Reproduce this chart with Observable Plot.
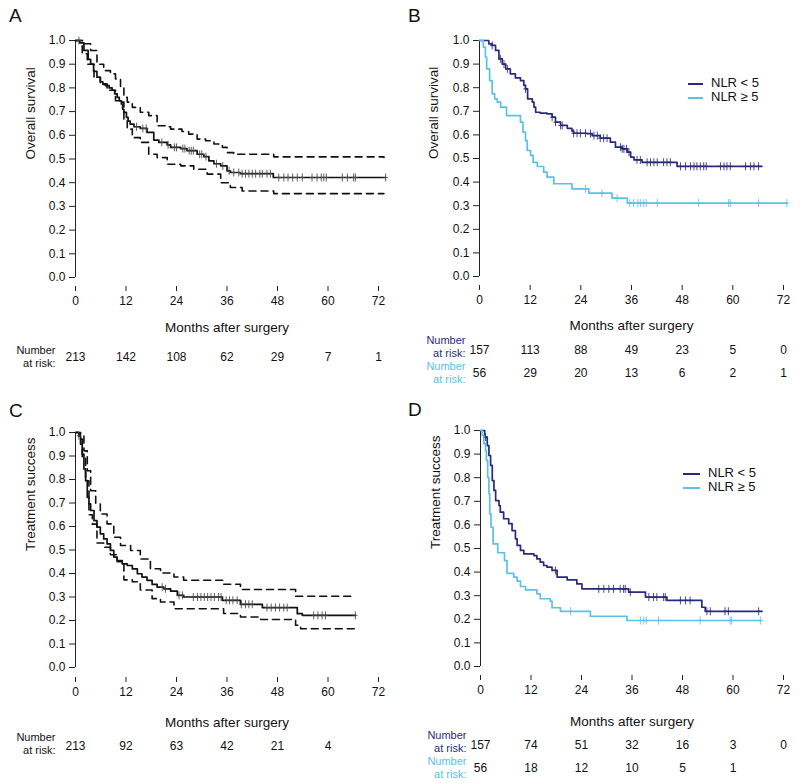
<!DOCTYPE html>
<html><head><meta charset="utf-8">
<script src="https://cdn.jsdelivr.net/npm/d3@7"></script>
<script src="https://cdn.jsdelivr.net/npm/@observablehq/plot@0.6"></script>
<style>
body{margin:0;background:#fff;}
#root{position:relative;width:800px;height:783px;font-family:"Liberation Sans",Arial,sans-serif;color:#111;overflow:hidden;}
.panel{position:absolute;}
.plabel{position:absolute;font-size:19px;line-height:19px;}
.leg{position:absolute;font-size:13px;line-height:16px;height:16px;white-space:nowrap;}
.leg span{display:inline-block;height:2px;vertical-align:middle;margin-right:8px;}
</style></head><body><div id="root"></div>
<script>
// ---------- data ----------
const NAVY = "#2a2a7c", LIGHT = "#5bc1e6", BLACK = "#111";
const xTicks = [0, 12, 24, 36, 48, 60, 72];
const yTicks = [0, 0.1, 0.2, 0.3, 0.4, 0.5, 0.6, 0.7, 0.8, 0.9, 1.0];

// Panel A – overall survival, all patients
const A_t = [0, 1.0, 2.0, 3.0, 3.6, 4.3, 5.1, 5.9, 6.5, 7.1, 8.0, 8.7, 9.3, 9.9, 10.4, 10.9, 11.2, 11.5, 12.1, 12.5, 13.0, 13.9, 15.4, 17.0, 18.6, 19.8, 21.8, 22.6, 25.0, 26.5, 28.9, 30.5, 31.7, 32.9, 34.5, 36.0, 36.8, 39.2, 47.0, 73.7];
const A_s = [1.0, 0.99, 0.958, 0.92, 0.90, 0.87, 0.845, 0.826, 0.815, 0.81, 0.80, 0.79, 0.775, 0.76, 0.745, 0.732, 0.71, 0.697, 0.676, 0.66, 0.647, 0.636, 0.629, 0.612, 0.58, 0.57, 0.56, 0.549, 0.544, 0.535, 0.52, 0.51, 0.492, 0.48, 0.471, 0.45, 0.443, 0.438, 0.422, 0.422];
const AU_t = [0, 2.0, 3.6, 5.1, 6.7, 8.3, 9.5, 10.7, 11.5, 12.3, 13.5, 15.4, 17.4, 19.4, 21.8, 22.6, 25.3, 26.9, 28.9, 30.9, 32.9, 34.9, 36.0, 37.6, 47.1, 73.3];
const AU_s = [1.0, 0.986, 0.958, 0.90, 0.873, 0.859, 0.838, 0.80, 0.76, 0.74, 0.718, 0.697, 0.683, 0.64, 0.636, 0.626, 0.616, 0.605, 0.584, 0.577, 0.563, 0.549, 0.527, 0.52, 0.509, 0.506];
const AL_t = [0, 1.6, 2.8, 4.4, 5.9, 7.5, 9.5, 10.7, 11.5, 12.3, 13.5, 15.4, 17.4, 19.4, 21.8, 25.0, 28.1, 31.3, 34.5, 36.8, 39.6, 47.1, 73.3];
const AL_s = [1.0, 0.944, 0.90, 0.845, 0.817, 0.79, 0.746, 0.74, 0.66, 0.626, 0.59, 0.57, 0.52, 0.506, 0.478, 0.471, 0.457, 0.436, 0.40, 0.38, 0.365, 0.354, 0.354];
const A_cens = [0.8, 14.5, 16.0, 16.8, 20.5, 22.0, 23.5, 24.0, 25.5, 26.0, 27.0, 27.5, 28.0, 29.5, 30.0, 31.0, 33.5, 35.0, 36.5, 37.6, 38.8, 39.6, 40.4, 41.2, 42.0, 42.8, 43.8, 44.4, 45.5, 46.3, 48.3, 49.5, 50.5, 51.6, 52.7, 53.9, 56.2, 57.4, 58.4, 59.0, 59.6, 63.4, 64.6, 66.1, 66.5, 73.7];
const A_risk = [213, 142, 108, 62, 29, 7, 1];

// Panel B – overall survival by NLR
const BN_t = [0, 2.2, 3.0, 3.8, 4.6, 5.4, 6.2, 7.3, 8.5, 9.7, 10.5, 10.9, 11.4, 12.5, 12.9, 13.3, 14.4, 16.0, 17.2, 18.0, 19.2, 20.8, 21.9, 22.3, 25.5, 26.7, 28.6, 31.0, 32.2, 33.8, 35.0, 35.8, 36.6, 38.5, 46.8, 66.9];
const BN_s = [1.0, 0.986, 0.979, 0.958, 0.922, 0.90, 0.88, 0.859, 0.842, 0.83, 0.81, 0.795, 0.753, 0.739, 0.718, 0.696, 0.692, 0.689, 0.675, 0.654, 0.64, 0.628, 0.616, 0.607, 0.605, 0.597, 0.586, 0.569, 0.548, 0.541, 0.527, 0.506, 0.494, 0.484, 0.467, 0.467];
const BN_cens = [3.0, 5.0, 5.8, 6.6, 10.9, 17.2, 18.0, 19.2, 19.6, 22.3, 23.1, 23.9, 25.1, 26.3, 27.1, 27.9, 28.6, 29.4, 30.2, 33.4, 33.8, 34.2, 34.8, 35.4, 37.3, 38.1, 39.7, 40.5, 41.3, 42.1, 43.6, 44.4, 45.2, 47.6, 48.8, 50.0, 50.8, 51.5, 52.3, 53.1, 53.7, 57.1, 57.9, 58.6, 59.4, 63.0, 64.2, 65.0, 66.1];
const BL_t = [0, 0.9, 1.4, 1.7, 2.4, 3.0, 3.6, 4.2, 5.0, 6.4, 9.7, 10.3, 10.9, 11.3, 12.1, 12.7, 13.7, 15.2, 16.0, 17.6, 21.9, 25.9, 31.4, 35.0, 72.8];
const BL_s = [1.0, 0.972, 0.93, 0.88, 0.83, 0.774, 0.753, 0.739, 0.718, 0.682, 0.654, 0.612, 0.576, 0.534, 0.513, 0.484, 0.466, 0.442, 0.421, 0.393, 0.371, 0.353, 0.332, 0.311, 0.311];
const BL_cens = [25.1, 29.0, 32.6, 35.6, 36.5, 37.5, 38.1, 38.9, 39.5, 42.1, 51.9, 59.0, 59.4, 66.1, 72.8];
const BN_risk = [157, 113, 88, 49, 23, 5, 0];
const BL_risk = [56, 29, 20, 13, 6, 2, 1];

// Panel C – treatment success, all patients
const C_t = [0, 0.8, 1.2, 1.6, 2.0, 2.4, 2.8, 3.2, 3.6, 4.4, 5.1, 5.9, 6.7, 7.5, 8.3, 9.1, 9.9, 11.1, 12.3, 13.5, 14.7, 15.8, 17.0, 18.2, 19.4, 21.0, 22.6, 24.2, 25.7, 34.9, 39.2, 44.4, 52.7, 53.9, 66.5];
const C_s = [1.0, 0.986, 0.95, 0.908, 0.845, 0.795, 0.724, 0.696, 0.668, 0.625, 0.597, 0.569, 0.547, 0.526, 0.498, 0.47, 0.455, 0.441, 0.434, 0.42, 0.399, 0.385, 0.371, 0.354, 0.342, 0.335, 0.325, 0.307, 0.30, 0.286, 0.269, 0.255, 0.229, 0.222, 0.222];
const CU_t = [0, 1.2, 2.0, 2.8, 3.6, 4.8, 5.9, 7.5, 9.1, 10.7, 13.1, 15.4, 17.8, 20.2, 23.4, 25.7, 35.2, 39.2, 52.3, 66.5];
const CU_s = [1.0, 0.986, 0.922, 0.837, 0.752, 0.696, 0.653, 0.611, 0.554, 0.519, 0.498, 0.462, 0.42, 0.402, 0.385, 0.371, 0.354, 0.332, 0.303, 0.303];
const CL_t = [0, 0.8, 1.6, 2.4, 3.2, 4.0, 5.1, 6.7, 8.3, 9.9, 11.5, 13.5, 15.4, 18.2, 20.2, 23.4, 35.2, 39.2, 44.0, 52.3, 53.5, 66.5];
const CL_s = [1.0, 0.972, 0.894, 0.795, 0.65, 0.61, 0.53, 0.512, 0.48, 0.45, 0.373, 0.365, 0.33, 0.293, 0.279, 0.25, 0.23, 0.215, 0.204, 0.18, 0.165, 0.165];
const C_cens = [0.8, 20.6, 21.4, 24.6, 25.4, 28.0, 29.0, 29.8, 30.6, 31.4, 32.2, 33.0, 34.0, 34.6, 35.8, 36.6, 37.4, 38.4, 39.4, 40.4, 41.2, 42.0, 45.5, 46.5, 47.5, 48.5, 49.5, 50.3, 56.6, 57.6, 58.6, 59.4, 66.5];
const C_risk = [213, 92, 63, 42, 21, 4];

// Panel D – treatment success by NLR
const DN_t = [0, 1.0, 1.6, 2.0, 2.4, 2.8, 3.2, 3.6, 4.4, 4.7, 5.5, 6.7, 7.5, 8.3, 8.7, 9.5, 10.3, 12.7, 13.4, 14.2, 15.0, 15.8, 17.0, 18.2, 20.6, 22.9, 24.1, 35.2, 39.2, 44.3, 52.6, 53.4, 66.9];
const DN_s = [1.0, 0.972, 0.936, 0.894, 0.852, 0.788, 0.746, 0.703, 0.682, 0.654, 0.626, 0.605, 0.576, 0.541, 0.513, 0.492, 0.477, 0.47, 0.456, 0.442, 0.428, 0.421, 0.407, 0.379, 0.367, 0.35, 0.329, 0.315, 0.294, 0.28, 0.251, 0.234, 0.234];
const DN_cens = [1.2, 17.8, 28.1, 29.3, 30.5, 31.6, 33.2, 34.0, 34.4, 35.6, 40.0, 41.1, 41.9, 43.5, 43.9, 47.5, 48.7, 49.8, 53.8, 54.6, 58.1, 58.9, 66.1];
const DL_t = [0, 0.4, 0.8, 1.2, 1.4, 1.7, 2.0, 2.2, 2.5, 3.0, 4.1, 5.7, 6.3, 7.9, 8.7, 9.5, 10.7, 13.4, 14.2, 16.6, 17.0, 19.0, 26.1, 34.8, 66.9];
const DL_s = [1.0, 0.979, 0.944, 0.915, 0.873, 0.802, 0.732, 0.647, 0.59, 0.52, 0.482, 0.449, 0.395, 0.379, 0.362, 0.339, 0.325, 0.308, 0.287, 0.277, 0.249, 0.234, 0.213, 0.195, 0.195];
const DL_cens = [21.4, 38.0, 38.8, 39.4, 42.3, 52.2, 59.3, 59.7, 66.5];
const DN_risk = [157, 74, 51, 32, 16, 3, 0];
const DL_risk = [56, 18, 12, 10, 5, 1];

// ---------- helpers ----------
const rows = (t, s) => t.map((d, i) => ({t: d, s: s[i]}));
function stepAt(t, s, x) { let v = s[0]; for (let i = 0; i < t.length; i++) { if (t[i] <= x + 1e-9) v = s[i]; } return v; }
const cens = (t, s, c) => c.map(x => ({t: x, s: stepAt(t, s, x)}));
const risk = (vals) => vals.map((n, i) => ({m: xTicks[i], n: String(n)}));
const plusSym = {draw(ctx, size) { const r = Math.sqrt(size / Math.PI); ctx.moveTo(0, -r); ctx.lineTo(0, r); ctx.moveTo(-r * 0.55, 0); ctx.lineTo(r * 0.55, 0); }};

const root = document.getElementById("root");
const FS = 12;

function panel(o) {
  const marks = [
    Plot.ruleX([0], {y1: 0, y2: 1, stroke: "#222", strokeWidth: 1}),
    Plot.axisY({ticks: yTicks, tickFormat: d3.format(".1f"), tickSize: 6, tickPadding: 4, fontSize: FS, label: null, stroke: "#222"}),
    Plot.axisX({ticks: xTicks, tickSize: 5, tickPadding: 5, fontSize: FS, label: null, line: true, stroke: "#222"}),
    Plot.text([o.yLabel], {frameAnchor: "left", lineAnchor: "middle", rotate: -90, dx: o.ylDx, dy: -4, fontSize: 13.5, fill: "#111"}),
    Plot.text(["Months after surgery"], {frameAnchor: "bottom", lineAnchor: "middle", dy: o.xlDy, fontSize: 13.5, fill: "#111"})
  ];
  for (const c of (o.ci || [])) {
    marks.push(Plot.line(c, {x: "t", y: "s", curve: "step-after", stroke: BLACK, strokeWidth: 1.6, strokeDasharray: "7,5"}));
  }
  for (const s of o.series) {
    marks.push(Plot.line(s.data, {x: "t", y: "s", curve: "step-after", stroke: s.color, strokeWidth: 1.7}));
    marks.push(Plot.dot(s.cens, {x: "t", y: "s", symbol: plusSym, r: 4, stroke: s.censColor || s.color, strokeWidth: 1, fill: "none", strokeOpacity: 0.85}));
  }
  for (const r of o.risk) {
    marks.push(Plot.text(r.rows, {x: "m", text: "n", frameAnchor: "bottom", lineAnchor: "middle", dy: r.dy, fontSize: FS, fill: "#111"}));
    marks.push(Plot.text(["Number\nat risk:"], {frameAnchor: "bottom-left", lineAnchor: "middle", textAnchor: "end", dx: r.ldx, dy: r.ldy, lineHeight: 1.12, fontSize: 11, fill: r.color}));
  }
  const svg = Plot.plot({
    width: 400, height: o.height,
    marginTop: o.mt, marginBottom: o.mb, marginLeft: o.ml, marginRight: o.mr,
    x: {domain: [0, 72]},
    y: {domain: [0, 1], insetBottom: o.inset},
    style: {fontFamily: "'Liberation Sans', Arial, sans-serif", fontSize: FS + "px", color: "#111", background: "transparent"},
    marks
  });
  const div = document.createElement("div");
  div.className = "panel";
  div.style.left = o.left + "px"; div.style.top = o.top + "px";
  div.appendChild(svg);
  root.appendChild(div);
}

panel({left: 0, top: 0, height: 390, mt: 40, mb: 104, ml: 75, mr: 22, inset: 9,
  yLabel: "Overall survival", ylDx: -45, xlDy: 41,
  ci: [rows(AU_t, AU_s), rows(AL_t, AL_s)],
  series: [{data: rows(A_t, A_s), color: BLACK, censColor: "#444", cens: cens(A_t, A_s, A_cens)}],
  risk: [{rows: risk(A_risk), dy: 71, ldx: -20, ldy: 70, color: "#111"}]});

panel({left: 400, top: 0, height: 390, mt: 40, mb: 105, ml: 79, mr: 17, inset: 9,
  yLabel: "Overall survival", ylDx: -46, xlDy: 40,
  series: [{data: rows(BN_t, BN_s), color: NAVY, cens: cens(BN_t, BN_s, BN_cens)},
           {data: rows(BL_t, BL_s), color: LIGHT, cens: cens(BL_t, BL_s, BL_cens)}],
  risk: [{rows: risk(BN_risk), dy: 65, ldx: -14, ldy: 61, color: NAVY},
         {rows: risk(BL_risk), dy: 88, ldx: -14, ldy: 87, color: LIGHT}]});

panel({left: 0, top: 390, height: 393, mt: 42, mb: 106, ml: 75, mr: 22, inset: 10,
  yLabel: "Treatment success", ylDx: -45, xlDy: 45,
  ci: [rows(CU_t, CU_s), rows(CL_t, CL_s)],
  series: [{data: rows(C_t, C_s), color: BLACK, censColor: "#444", cens: cens(C_t, C_s, C_cens)}],
  risk: [{rows: risk(C_risk), dy: 69, ldx: -20, ldy: 66, color: "#111"}]});

panel({left: 400, top: 390, height: 393, mt: 40, mb: 108, ml: 80, mr: 17, inset: 9,
  yLabel: "Treatment success", ylDx: -45, xlDy: 46,
  series: [{data: rows(DN_t, DN_s), color: NAVY, cens: cens(DN_t, DN_s, DN_cens)},
           {data: rows(DL_t, DL_s), color: LIGHT, cens: cens(DL_t, DL_s, DL_cens)}],
  risk: [{rows: risk(DN_risk), dy: 70, ldx: -14, ldy: 66, color: NAVY},
         {rows: risk(DL_risk), dy: 93, ldx: -14, ldy: 92, color: LIGHT}]});

// panel letters
[["A", 9, 6], ["B", 408, 6], ["C", 9, 401], ["D", 408, 400]].forEach(([t, x, y]) => {
  const d = document.createElement("div"); d.className = "plabel"; d.textContent = t;
  d.style.left = x + "px"; d.style.top = y + "px"; root.appendChild(d);
});
// legends
function legend(x, y, w, items) {
  items.forEach(([label, color], i) => {
    const d = document.createElement("div"); d.className = "leg";
    d.style.left = x + "px"; d.style.top = (y + i * 14 - 8) + "px";
    const sw = document.createElement("span"); sw.style.width = w + "px"; sw.style.background = color;
    d.appendChild(sw); d.appendChild(document.createTextNode(label));
    root.appendChild(d);
  });
}
legend(688, 83, 15, [["NLR < 5", NAVY], ["NLR \u2265 5", LIGHT]]);
legend(683, 473, 17, [["NLR < 5", NAVY], ["NLR \u2265 5", LIGHT]]);
</script></body></html>
